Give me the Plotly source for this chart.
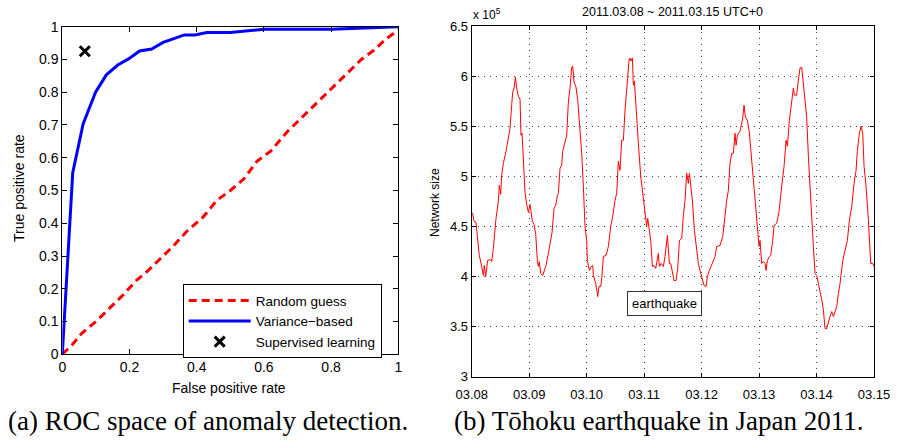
import plotly.graph_objects as go

# ---------------- ROC data ----------------
fpr_random = [0, 0.03, 0.058, 0.10, 0.14, 0.18, 0.22, 0.255, 0.29, 0.33, 0.37, 0.42, 0.46, 0.50,
              0.54, 0.58, 0.62, 0.67, 0.73, 0.77, 0.81, 0.85, 0.89, 0.93, 0.96, 1.0]
tpr_random = [0, 0.03, 0.064, 0.10, 0.14, 0.18, 0.225, 0.255, 0.29, 0.33, 0.375, 0.42, 0.47, 0.50,
              0.535, 0.59, 0.62, 0.68, 0.74, 0.78, 0.82, 0.86, 0.90, 0.93, 0.96, 0.99]
fpr_var = [0, 0.031, 0.062, 0.099, 0.131, 0.165, 0.196, 0.23, 0.266, 0.30, 0.33, 0.363, 0.395,
           0.43, 0.50, 0.60, 0.80, 1.0]
tpr_var = [0, 0.554, 0.703, 0.80, 0.853, 0.883, 0.901, 0.926, 0.932, 0.952, 0.963, 0.975, 0.975,
           0.982, 0.982, 0.992, 0.992, 1.0]
sup_fpr = [0.067]
sup_tpr = [0.925]
roc_ticks_x = [0, 0.2, 0.4, 0.6, 0.8, 1]
roc_ticks_y = [0, 0.1, 0.2, 0.3, 0.4, 0.5, 0.6, 0.7, 0.8, 0.9, 1]

# ---------------- Network size data (days since 03.08, x 10^5) ----------------
t_days = [0.0, 0.017, 0.041, 0.075, 0.099, 0.133, 0.174, 0.203, 0.220, 0.244, 0.278, 0.319, 0.348,
          0.377, 0.423, 0.464, 0.481, 0.505, 0.522, 0.551, 0.597, 0.626, 0.667, 0.696, 0.713,
          0.737, 0.760, 0.783, 0.812, 0.841, 0.858, 0.876, 0.899, 0.928, 0.957, 0.986, 1.015,
          1.032, 1.056, 1.085, 1.114, 1.143, 1.160, 1.177, 1.201, 1.235, 1.259, 1.293, 1.334,
          1.363, 1.398, 1.433, 1.462, 1.491, 1.508, 1.537, 1.566, 1.584, 1.624, 1.653, 1.682,
          1.711, 1.740, 1.758, 1.781, 1.815, 1.845, 1.885, 1.914, 1.943, 1.972, 2.001, 2.013,
          2.048, 2.082, 2.106, 2.117, 2.158, 2.193, 2.216, 2.245, 2.262, 2.291, 2.338, 2.378,
          2.419, 2.454, 2.494, 2.523, 2.552, 2.581, 2.610, 2.639, 2.668, 2.697, 2.738, 2.755,
          2.773, 2.796, 2.813, 2.831, 2.860, 2.900, 2.941, 2.976, 3.016, 3.045, 3.063, 3.086,
          3.115, 3.144, 3.173, 3.202, 3.248, 3.266, 3.295, 3.335, 3.364, 3.405, 3.440, 3.463,
          3.498, 3.521, 3.556, 3.585, 3.614, 3.654, 3.683, 3.712, 3.741, 3.770, 3.788, 3.811,
          3.840, 3.875, 3.915, 3.944, 3.973, 4.014, 4.043, 4.078, 4.101, 4.136, 4.176, 4.205,
          4.234, 4.263, 4.321, 4.368, 4.408, 4.437, 4.466, 4.495, 4.524, 4.553, 4.582, 4.600,
          4.623, 4.669, 4.716, 4.739, 4.762, 4.797, 4.832, 4.872, 4.913, 4.948, 4.971, 5.000,
          5.017, 5.029, 5.046, 5.075, 5.104, 5.122, 5.145, 5.180, 5.203, 5.238, 5.261, 5.307,
          5.348, 5.394, 5.435, 5.470, 5.493, 5.528, 5.551, 5.597, 5.615, 5.655, 5.684, 5.713,
          5.742, 5.771, 5.800, 5.829, 5.858, 5.887, 5.916, 5.945, 5.974, 6.003, 6.032, 6.061,
          6.090, 6.119, 6.148, 6.177, 6.206, 6.235, 6.265, 6.294, 6.323, 6.351, 6.381, 6.409,
          6.456, 6.497, 6.537, 6.572, 6.613, 6.653, 6.688, 6.711, 6.746, 6.775, 6.804, 6.827,
          6.862, 6.903, 6.943, 6.978, 7.0]
net_size = [4.63, 4.63, 4.55, 4.54, 4.40, 4.21, 4.10, 4.01, 4.11, 4.00, 4.16, 4.17, 4.15,
            4.28, 4.58, 4.75, 4.91, 4.82, 5.01, 5.13, 5.25, 5.35, 5.48, 5.71, 5.84,
            5.88, 5.99, 5.88, 5.80, 5.77, 5.41, 5.43, 5.10, 4.84, 4.72, 4.64, 4.72,
            4.63, 4.55, 4.52, 4.42, 4.15, 4.10, 4.15, 4.03, 4.01, 4.05, 4.11, 4.23,
            4.34, 4.44, 4.68, 4.71, 4.81, 4.83, 5.08, 5.11, 5.25, 5.35, 5.41, 5.74,
            5.88, 6.09, 6.10, 5.94, 5.89, 5.76, 5.49, 5.23, 4.90, 4.50, 4.36, 4.16,
            4.06, 4.10, 4.11, 4.01, 3.93, 3.80, 3.90, 3.90, 3.98, 4.20, 4.21, 4.30,
            4.50, 4.60, 4.76, 4.83, 5.15, 5.06, 5.36, 5.36, 5.66, 5.89, 6.16, 6.18,
            6.15, 6.18, 5.91, 5.95, 5.63, 5.33, 5.00, 4.85, 4.63, 4.50, 4.58, 4.50,
            4.36, 4.10, 4.11, 4.08, 4.23, 4.10, 4.13, 4.10, 4.20, 4.41, 4.13, 4.13,
            4.03, 3.96, 3.96, 4.08, 4.36, 4.38, 4.61, 4.76, 5.03, 4.93, 5.03, 4.93,
            4.76, 4.46, 4.26, 4.13, 4.06, 3.96, 3.91, 3.90, 4.00, 4.06, 4.11, 4.15,
            4.20, 4.30, 4.31, 4.40, 4.63, 4.76, 4.86, 5.13, 5.23, 5.23, 5.43, 5.31,
            5.41, 5.45, 5.58, 5.71, 5.59, 5.56, 5.43, 5.16, 4.90, 4.63, 4.43, 4.30,
            4.36, 4.28, 4.13, 4.15, 4.13, 4.06, 4.16, 4.20, 4.21, 4.36, 4.51, 4.53,
            4.65, 4.90, 5.10, 5.36, 5.30, 5.56, 5.69, 5.88, 5.81, 5.81, 5.96, 6.08,
            6.09, 5.93, 5.76, 5.59, 5.20, 4.86, 4.60, 4.30, 4.03, 4.01, 3.93, 3.86,
            3.77, 3.67, 3.48, 3.48, 3.55, 3.60, 3.65, 3.60, 3.65, 3.70, 3.83, 3.93,
            4.16, 4.28, 4.36, 4.56, 4.70, 4.93, 5.06, 5.26, 5.43, 5.50, 5.43, 5.10,
            4.90, 4.56, 4.13, 4.13, 4.10]
day_ticks = [0, 1, 2, 3, 4, 5, 6, 7]
day_labels = ["03.08", "03.09", "03.10", "03.11", "03.12", "03.13", "03.14", "03.15"]
size_ticks = [3, 3.5, 4, 4.5, 5, 5.5, 6, 6.5]
size_labels = ["3", "3.5", "4", "4.5", "5", "5.5", "6", "6.5"]
quake_label_pos = (3.346, 3.735)

W, H = 898, 443
FONT = "Liberation Sans, Arial, sans-serif"
SERIF = "Liberation Serif, serif"

fig = go.Figure()

fig.add_trace(go.Scatter(x=fpr_random, y=tpr_random, mode="lines", name="Random guess",
                         line=dict(color="#ff0000", width=3, dash="8px,5px"),
                         xaxis="x", yaxis="y"))
fig.add_trace(go.Scatter(x=fpr_var, y=tpr_var, mode="lines", name="Variance\u2212based",
                         line=dict(color="#0000ff", width=3), xaxis="x", yaxis="y"))
fig.add_trace(go.Scatter(x=sup_fpr, y=sup_tpr, mode="markers", name="Supervised learning",
                         marker=dict(symbol="x-thin-open", size=10, color="black",
                                     line=dict(color="black", width=3)),
                         xaxis="x", yaxis="y"))
fig.add_trace(go.Scatter(x=t_days, y=net_size, mode="lines", showlegend=False,
                         line=dict(color="#ff0000", width=1), xaxis="x2", yaxis="y2"))


def px(xp):
    return xp / W


def py(yp):
    return (H - yp) / H


def axis_style(size, ticklen):
    return dict(showline=True, linecolor="black", linewidth=1, mirror="ticks",
                ticks="inside", tickcolor="black", ticklen=ticklen, tickwidth=1,
                zeroline=False, automargin=False,
                tickfont=dict(family=FONT, size=size, color="black"))


grid_style = dict(showgrid=True, gridcolor="#444", griddash="1px,5px", gridwidth=1)

fig.update_layout(
    width=W, height=H, margin=dict(l=0, r=0, t=0, b=0, pad=0, autoexpand=False),
    paper_bgcolor="white", plot_bgcolor="white",
    font=dict(family=FONT, color="black"),
    xaxis=dict(domain=[px(62.3), px(398.3)], range=[0, 1], tickvals=roc_ticks_x,
               ticktext=[f"{v:g}" for v in roc_ticks_x], showgrid=False, anchor="y",
               **axis_style(14, 5)),
    yaxis=dict(domain=[py(354.3), py(26.7)], range=[0, 1], tickvals=roc_ticks_y,
               ticktext=[f"{v:g}" for v in roc_ticks_y], showgrid=False, anchor="x",
               **axis_style(14, 5)),
    xaxis2=dict(domain=[px(471.7), px(874)], range=[0, 7], tickvals=day_ticks,
                ticktext=day_labels, anchor="y2", ticklabelstandoff=6,
                **grid_style, **axis_style(13, 4)),
    yaxis2=dict(domain=[py(376.7), py(26)], range=[3, 6.5], tickvals=size_ticks,
                ticktext=size_labels, anchor="x2", **grid_style, **axis_style(13, 4)),
    legend=dict(x=px(182.7), y=py(284.3), xanchor="left", yanchor="top",
                bgcolor="white", bordercolor="black", borderwidth=1,
                font=dict(family=FONT, size=13.5, color="black"),
                tracegroupgap=0, itemwidth=62),
    showlegend=True,
)


def note(text, x, y, size, family=FONT, angle=0, xanchor="center"):
    return dict(text=text, x=px(x), y=py(y), xref="paper", yref="paper",
                xanchor=xanchor, yanchor="middle", showarrow=False, textangle=angle,
                font=dict(family=family, size=size, color="black"))


annots = [
    note("False positive rate", 229, 388, 14),
    note("True positive rate", 19, 188, 14, angle=-90),
    note("Network size", 435, 203, 12, angle=-90),
    note("2011.03.08 ~ 2011.03.15 UTC+0", 672, 12, 12.5),
    note("x 10<sup>5</sup>", 471, 14, 12, xanchor="left"),
    dict(text="earthquake", x=quake_label_pos[0], y=quake_label_pos[1], xref="x2", yref="y2",
         xanchor="center", yanchor="middle",
         showarrow=False, font=dict(family=FONT, size=13, color="black"), bgcolor="white",
         bordercolor="#333", borderwidth=1, borderpad=4),
    note("(a) ROC space of anomaly detection.", 6, 421, 27, family=SERIF, xanchor="left"),
    note("(b) T\u014dhoku earthquake in Japan 2011.", 452, 421, 27, family=SERIF,
         xanchor="left"),
]
fig.update_layout(annotations=annots)

fig.write_html("out.html", config={"displayModeBar": False},
               post_script="document.body.style.margin='0';document.body.style.padding='0';")
